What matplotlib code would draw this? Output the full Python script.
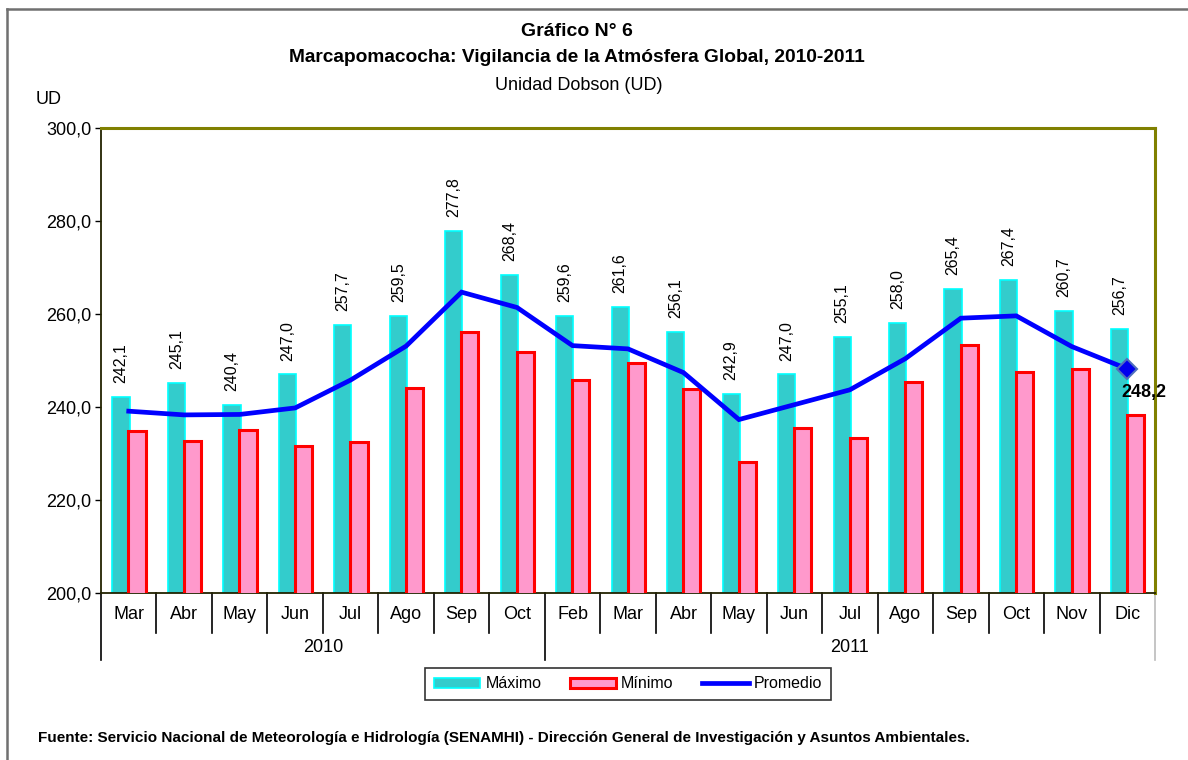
import numpy as np
import matplotlib
matplotlib.use("Agg")
import matplotlib.pyplot as plt
from matplotlib.lines import Line2D
from matplotlib.patches import Patch

REG = ['Liberation Sans', 'DejaVu Sans']
plt.rcParams['font.family'] = REG

# data
meses = ['Mar', 'Abr', 'May', 'Jun', 'Jul', 'Ago', 'Sep', 'Oct',
         'Feb', 'Mar', 'Abr', 'May', 'Jun', 'Jul', 'Ago', 'Sep', 'Oct', 'Nov', 'Dic']
anios = ['2010', '2011']
n_2010 = 8
maximo = [242.1, 245.1, 240.4, 247.0, 257.7, 259.5, 277.8, 268.4,
          259.6, 261.6, 256.1, 242.9, 247.0, 255.1, 258.0, 265.4, 267.4, 260.7, 256.7]
minimo = [234.8, 232.6, 235.0, 231.6, 232.4, 244.1, 256.1, 251.8,
          245.8, 249.5, 243.8, 228.2, 235.5, 233.3, 245.4, 253.3, 247.6, 248.1, 238.3]
promedio = [239.1, 238.3, 238.4, 239.8, 245.8, 253.1, 264.7, 261.4,
            253.2, 252.5, 247.4, 237.3, 240.5, 243.7, 250.4, 259.1, 259.6, 253.0, 248.2]

W, H = 1188, 760
fig = plt.figure(figsize=(W / 100, H / 100), dpi=100)
ax = fig.add_axes([101 / W, 1 - 593 / H, (1155 - 101) / W, 465 / H])

x = np.arange(len(meses))
bw = 0.31
ax.bar(x - 0.14, maximo, bw, color='#33CCCC', edgecolor='#00FFFF', linewidth=1.2, zorder=2)
ax.bar(x + 0.15, minimo, bw, color='#FF99CC', edgecolor='#FF0000', linewidth=2.2, zorder=3)
ax.plot(x, promedio, color='#0000FF', lw=3.4, zorder=4, solid_joinstyle='miter')
ax.plot(x[-1], promedio[-1], marker='D', ms=10, color='#0000EE', mec='#4F6FBD', mew=1.5, zorder=5)

for xi, v in zip(x, maximo):
    ax.annotate(f'{v:.1f}'.replace('.', ','), (xi - 0.14, v), xytext=(0, 10),
                textcoords='offset points', rotation=90, ha='center', va='bottom',
                fontsize=11.5)
ax.annotate(f'{promedio[-1]:.1f}'.replace('.', ','), (x[-1], promedio[-1]), xytext=(-4, -17),
            textcoords='offset points', ha='left', va='center', fontsize=13,
            fontweight='bold')

ax.set_xlim(-0.5, len(meses) - 0.5)
ax.set_ylim(200, 300)
ax.set_yticks(np.arange(200, 301, 20))
ax.set_yticklabels([f'{t:.1f}'.replace('.', ',') for t in np.arange(200, 301, 20)], fontsize=13)
ax.tick_params(axis='y', direction='out', length=4, width=1, pad=3)
ax.set_xticks([])
for s in ['top', 'right']:
    ax.spines[s].set_color('#808000')
    ax.spines[s].set_linewidth(2.2)
for s in ['left', 'bottom']:
    ax.spines[s].set_color('#222200')
    ax.spines[s].set_linewidth(1.3)

# category axis: months and years
tr = ax.get_xaxis_transform()
for xi, m in zip(x, meses):
    ax.text(xi, -0.047, m, transform=tr, ha='center', va='center', fontsize=13)
for b in np.arange(len(meses) + 1) - 0.5:
    low = -0.144 if b in (-0.5, n_2010 - 0.5, len(meses) - 0.5) else -0.086
    col = '#BBBBBB' if b == len(meses) - 0.5 else 'black'
    ax.plot([b, b], [0, low], transform=tr, color=col, lw=1.2, clip_on=False)
ax.text((n_2010 - 1) / 2, -0.118, anios[0], transform=tr, ha='center', va='center', fontsize=13)
ax.text((n_2010 + len(meses) - 1) / 2, -0.118, anios[1], transform=tr, ha='center', va='center', fontsize=13)

# titles
fig.text(577 / W, 1 - 32 / H, 'Gráfico N° 6', ha='center', va='center', fontsize=14,
         fontweight='bold')
fig.text(577 / W, 1 - 58 / H, 'Marcapomacocha: Vigilancia de la Atmósfera Global, 2010-2011',
         ha='center', va='center', fontsize=13.8, fontweight='bold')
fig.text(579 / W, 1 - 86 / H, 'Unidad Dobson (UD)', ha='center', va='center', fontsize=13)
fig.text(36 / W, 1 - 100 / H, 'UD', ha='left', va='center', fontsize=13)
fig.text(38 / W, 1 - 738 / H,
         'Fuente: Servicio Nacional de Meteorología e Hidrología (SENAMHI) - Dirección General de Investigación y Asuntos Ambientales.',
         ha='left', va='center', fontsize=10.95, fontweight='bold')

handles = [Patch(facecolor='#33CCCC', edgecolor='#00FFFF', lw=1.2),
           Patch(facecolor='#FF99CC', edgecolor='#FF0000', lw=2.2),
           Line2D([], [], color='#0000FF', lw=3.4)]
leg = fig.legend(handles, ['Máximo', 'Mínimo', 'Promedio'], loc='center',
                 bbox_to_anchor=(628 / W, 1 - 684 / H), ncol=3, frameon=True, fancybox=False,
                 edgecolor='black', handlelength=2.9, handleheight=0.6, handletextpad=0.3,
                 columnspacing=1.8, borderpad=0.55, borderaxespad=0, prop={'size': 11.5})
leg.get_frame().set_linewidth(1.2)

# outer frame
fig.add_artist(Line2D([7 / W, 1], [1 - 9 / H, 1 - 9 / H], transform=fig.transFigure, color='#707070', lw=1.8))
fig.add_artist(Line2D([7 / W, 7 / W], [0, 1 - 9 / H], transform=fig.transFigure, color='#707070', lw=1.8))

fig.savefig('out.png', dpi=100, facecolor='white')
